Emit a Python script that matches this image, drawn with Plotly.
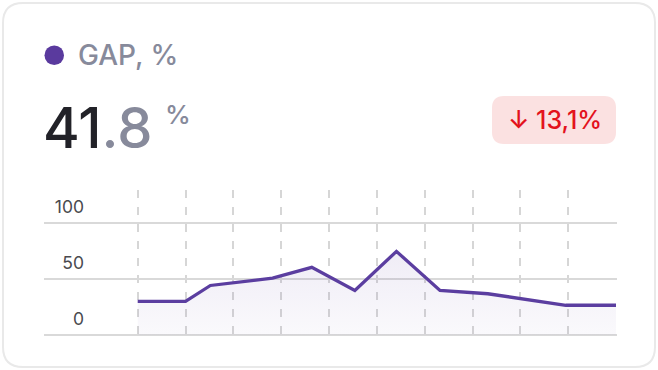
import plotly.graph_objects as go

# ---- data ----
x_pos = [0, 1.0, 1.52, 2.82, 3.64, 4.54, 5.41, 6.32, 7.32, 8.95, 10.0]
gap_values = [30.0, 30.0, 44.3, 50.9, 60.5, 39.8, 74.8, 39.8, 36.9, 26.6, 26.6]
x_grid = [0, 1, 2, 3, 4, 5, 6, 7, 8, 9, 10]
y_ticks = [0, 50, 100]
y_tick_labels = ["0", "50", "100"]
title_text = "GAP, %"
value_int = "41"
value_dec = ".8"
change_text = "↓ 13,1%"

W, H = 658, 370
L, R, T, B = 44, 617, 190, 335

def px2x(px):
    return (px - L) / (R - L)

def px2y(py):
    return (B - py) / (B - T)

def rounded_path(x0, y0, x1, y1, r):
    pts = [
        ("M", [(x0 + r, y0)]),
        ("L", [(x1 - r, y0)]),
        ("Q", [(x1, y0), (x1, y0 + r)]),
        ("L", [(x1, y1 - r)]),
        ("Q", [(x1, y1), (x1 - r, y1)]),
        ("L", [(x0 + r, y1)]),
        ("Q", [(x0, y1), (x0, y1 - r)]),
        ("L", [(x0, y0 + r)]),
        ("Q", [(x0, y0), (x0 + r, y0)]),
    ]
    s = ""
    for cmd, ps in pts:
        s += cmd + " " + " ".join(f"{px2x(a):.5f},{px2y(b):.5f}" for a, b in ps) + " "
    return s + "Z"

LINE = "#5b3ea0"
FONT = "Inter"

fig = go.Figure()
fig.add_trace(go.Scatter(
    x=x_pos, y=gap_values, mode="lines",
    line=dict(color=LINE, width=3.3),
    fill="tozeroy",
    fillgradient=dict(type="vertical",
                      colorscale=[[0, "rgba(91,62,158,0.03)"], [1, "rgba(91,62,158,0.10)"]],
                      start=0, stop=80),
    hoverinfo="skip", showlegend=False,
))

shapes = [
    dict(type="path", xref="paper", yref="paper", path=rounded_path(3, 3, 655, 367, 20),
         line=dict(color="#e9e9e9", width=2), fillcolor="rgba(0,0,0,0)", layer="below"),
    dict(type="path", xref="paper", yref="paper", path=rounded_path(492, 96, 616, 144, 12),
         line=dict(width=0), fillcolor="#fbe1e1", layer="below"),
    dict(type="circle", xref="paper", yref="paper",
         x0=px2x(44.5), x1=px2x(64), y0=px2y(45.5), y1=px2y(65),
         line=dict(width=0), fillcolor="#5a3a9e"),
]

annotations = [
    dict(xref="paper", yref="paper", x=px2x(76), y=px2y(55), xanchor="left", yanchor="middle",
         text=title_text, showarrow=False,
         font=dict(family=FONT, size=28, color="#878a9b", weight=500)),
    dict(xref="paper", yref="paper", x=px2x(41), y=px2y(128), xanchor="left", yanchor="middle",
         text=f"<span style='color:#222228'>{value_int}</span><span style='color:#878a9b'>{value_dec}</span>",
         showarrow=False, font=dict(family=FONT, size=56, color="#222228", weight=500)),
    dict(xref="paper", yref="paper", x=px2x(163), y=px2y(114), xanchor="left", yanchor="middle",
         text="%", showarrow=False, font=dict(family=FONT, size=26, color="#878a9b", weight=500)),
    dict(xref="paper", yref="paper", x=px2x(555), y=px2y(120), xanchor="center", yanchor="middle",
         text=change_text, showarrow=False, font=dict(family=FONT, size=25, color="#e3121c", weight=500)),
]

fig.update_layout(
    width=W, height=H,
    margin=dict(l=L, r=W - R, t=T, b=H - B, pad=0),
    paper_bgcolor="white", plot_bgcolor="rgba(0,0,0,0)",
    shapes=shapes, annotations=annotations,
    xaxis=dict(range=[(L - 137.7) / 47.83, 10 + (R - 616) / 47.83], tickvals=x_grid,
               showticklabels=False, showgrid=True, gridcolor="#d6d6d6", gridwidth=1.5,
               griddash="8px,9px", zeroline=False, showline=False, ticks=""),
    yaxis=dict(range=[0, 129.7], tickvals=y_ticks, ticktext=y_tick_labels,
               anchor="free", position=px2x(84), showgrid=True, gridcolor="#d9d9d9", gridwidth=2,
               zeroline=True, zerolinecolor="#d9d9d9", zerolinewidth=2, showline=False, ticks="",
               ticklabelposition="outside top", ticklabelshift=-4,
               tickfont=dict(family=FONT, size=17.5, color="#4a4a4f")),
    font=dict(family=FONT),
)

fig.write_html("out.html", config={"displayModeBar": False},
               post_script="document.body.style.margin='0';document.body.style.overflow='hidden';")
